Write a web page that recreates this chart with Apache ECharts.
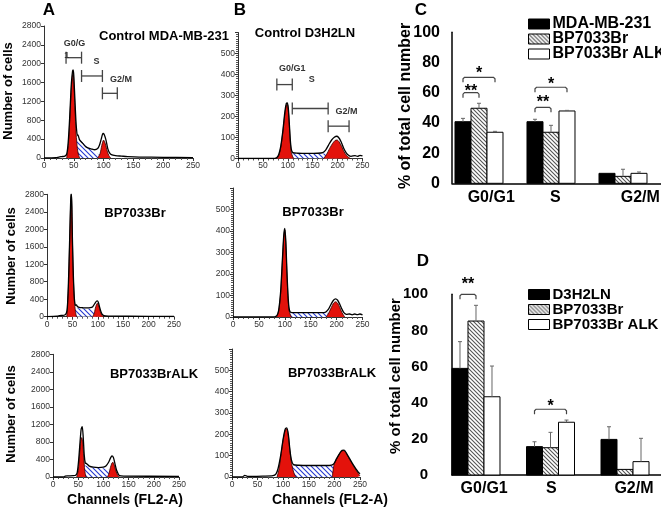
<!DOCTYPE html>
<html>
<head>
<meta charset="utf-8">
<script src="https://cdn.jsdelivr.net/npm/echarts@6/dist/echarts.min.js"></script>
<style>html,body{margin:0;padding:0;background:#fff}#chart{width:661px;height:508px}</style>
</head>
<body>
<div id="chart"></div>
<script>
// ---- flow histograms, [channel, cells] ----
// A1 Control MDA-MB-231
const a1Total = [[0,0],[20,5],[25,20],[30,30],[35,40],[38,80],[40,250],[42,600],[44,1100],[46,1600],[48,1850],[49,1870],[50,1750],[52,1200],[54,700],[56,480],[57,490],[58,450],[60,380],[65,310],[70,240],[75,210],[80,190],[85,175],[90,200],[93,270],[96,400],[99,520],[101,500],[104,380],[107,200],[110,110],[113,70],[120,50],[130,40],[140,30],[160,20],[200,15],[250,10]];
const a1G1 = [[38,0],[41,300],[44,1000],[46,1500],[48,1760],[49,1780],[50,1620],[52,1050],[54,500],[56,200],[58,60],[60,0]];
const a1S = [[50,0],[52,380],[58,400],[62,360],[70,260],[80,160],[90,90],[100,40],[108,0]];
const a1G2 = [[90,0],[94,90],[97,270],[100,380],[103,300],[106,150],[109,50],[112,0]];
// A2 BP7033Br
const a2Total = [[0,0],[20,10],[25,25],[30,30],[35,40],[38,80],[40,200],[42,700],[44,1500],[46,2400],[47,2750],[48,2820],[49,2500],[50,1800],[52,900],[54,400],[56,260],[58,270],[60,230],[65,210],[70,205],[75,200],[80,200],[85,205],[90,230],[94,300],[97,350],[99,360],[101,330],[104,200],[107,90],[110,40],[115,20],[130,12],[160,10],[250,5]];
const a2G1 = [[39,0],[42,650],[44,1450],[46,2350],[47,2700],[48,2780],[49,2450],[50,1750],[52,850],[54,350],[56,120],[58,0]];
const a2S = [[48,0],[50,190],[55,200],[65,195],[75,190],[85,180],[92,150],[98,80],[104,0]];
const a2G2 = [[90,0],[93,80],[96,230],[99,306],[102,250],[105,120],[108,40],[111,0]];
// A3 BP7033BrALK
const a3Total = [[0,0],[22,0],[24,20],[30,25],[40,30],[45,40],[48,100],[51,400],[54,850],[56,1100],[58,1150],[60,900],[62,500],[64,320],[66,310],[68,290],[72,250],[80,225],[90,215],[100,225],[105,250],[110,330],[114,430],[117,480],[120,440],[123,300],[126,160],[129,80],[132,30],[140,20],[250,15]];
const a3G1 = [[47,0],[50,150],[53,550],[55,820],[57,900],[59,800],[61,450],[63,150],[65,20],[66,0]];
const a3S = [[55,0],[58,260],[62,270],[70,240],[80,215],[90,205],[100,200],[108,180],[115,130],[122,50],[128,0]];
const a3G2 = [[108,0],[111,80],[114,220],[117,320],[119,335],[121,290],[124,170],[127,70],[130,15],[132,0]];
// B1 Control D3H2LN
const b1Total = [[0,0],[70,0],[78,5],[82,20],[86,60],[90,130],[94,220],[97,262],[99,265],[101,240],[103,170],[105,90],[107,45],[110,28],[120,25],[140,24],[160,25],[170,28],[176,40],[182,65],[188,88],[194,102],[198,106],[202,100],[207,80],[212,50],[217,28],[222,15],[227,10],[235,14],[240,10],[245,15],[250,12]];
const b1G1 = [[78,0],[82,15],[86,55],[90,125],[94,210],[97,255],[99,258],[101,230],[103,160],[105,80],[107,30],[110,8],[112,0]];
const b1S = [[100,0],[104,22],[110,24],[130,24],[150,24],[170,24],[180,22],[190,15],[200,0]];
const b1G2 = [[172,0],[178,20],[184,48],[190,72],[195,86],[199,88],[203,80],[208,58],[213,32],[218,14],[223,4],[226,0]];
// B2 BP7033Br
const b2Total = [[0,0],[75,0],[84,5],[88,30],[92,120],[95,250],[98,380],[100,412],[102,350],[104,220],[106,110],[108,45],[111,22],[120,20],[140,20],[160,20],[178,22],[184,35],[189,58],[194,78],[198,84],[202,78],[206,60],[210,38],[214,20],[219,12],[225,14],[230,10],[235,14],[240,11],[245,14],[250,10]];
const b2G1 = [[84,0],[88,25],[92,110],[95,240],[98,370],[100,405],[102,340],[104,210],[106,100],[108,35],[111,8],[113,0]];
const b2S = [[104,0],[108,18],[120,20],[140,20],[160,20],[180,20],[188,15],[195,5],[200,0]];
const b2G2 = [[180,0],[185,20],[190,45],[194,64],[198,71],[202,64],[206,45],[210,22],[214,6],[216,0]];
// B3 BP7033BrALK
const b3Total = [[0,0],[20,0],[25,8],[30,3],[40,3],[60,4],[80,6],[86,15],[90,40],[95,100],[100,180],[104,225],[107,230],[110,200],[113,130],[116,80],[120,58],[130,55],[150,54],[170,54],[190,54],[198,60],[204,85],[210,110],[215,125],[219,126],[224,110],[230,85],[236,60],[242,38],[247,22],[250,15]];
const b3G1 = [[88,0],[92,40],[96,110],[100,175],[104,220],[107,226],[110,195],[113,125],[116,70],[119,35],[122,12],[125,0]];
const b3S = [[108,0],[113,45],[120,53],[150,53],[180,53],[200,52],[210,40],[220,20],[228,0]];
const b3G2 = [[196,0],[199,55],[205,88],[210,110],[215,122],[218,124],[222,115],[228,90],[234,65],[240,40],[245,22],[249,8],[250,5]];

// gates: [fromChannel, toChannel, height]
const a1Gates = [[37,63,2128],[63,98,1740],[98,123,1372]];
const a1GateText = ['G0/G', '1', 'S', 'G2/M'];
const a1GateTextAt = [[51,2420],[38,2180],[88,2040],[129,1670]];
const b1Gates = [[78,109,352],[109,181,238],[181,223,154]];
const b1GateText = ['G0/G1', 'S', 'G2/M'];
const b1GateTextAt = [[109,430],[148,375],[218,222]];

// ---- bar charts ----
const phases = ['G0/G1', 'S', 'G2/M'];
const cNames = ['MDA-MB-231', 'BP7033Br', 'BP7033Br ALK'];
const cMeans = [[40.8, 40.8, 6.6], [49.7, 33.8, 4.6], [33.8, 47.9, 6.6]];
const cErrs = [[2.2, 1.6, 0], [3.3, 4.6, 4.7], [0.6, 0.4, 0.9]];
const dNames = ['D3H2LN', 'BP7033Br', 'BP7033Br ALK'];
const dMeans = [[59.0, 15.7, 19.7], [85.2, 15.1, 3.1], [43.3, 29.2, 7.4]];
const dErrs = [[14.8, 2.7, 7.0], [8.7, 8.5, 0], [17.0, 1.2, 12.9]];
// significance: [phase, fromBar, toBar, bracketValue, labelValue]
const cSig = [[0, 0, 1, 60, 62.9], [0, 0, 2, 70.2, 74.6], [1, 0, 1, 50.3, 55.6], [1, 0, 2, 63.6, 67.3]];
const cSigText = ['**', '*', '**', '*'];
const dSig = [[0, 0, 1, 100, 107], [1, 0, 2, 36.4, 39.7]];
const dSigText = ['**', '*'];

const FONT = "'Liberation Sans', Arial, sans-serif";
const BAR_W = 16;

function hatch(size, color, lw) {
  const c = document.createElement('canvas');
  c.width = size; c.height = size;
  const g = c.getContext('2d');
  g.fillStyle = '#fff';
  g.fillRect(0, 0, size, size);
  g.strokeStyle = color;
  g.lineWidth = lw;
  g.beginPath();
  g.moveTo(-1, -1); g.lineTo(size + 1, size + 1);
  g.moveTo(-1, size - 1); g.lineTo(1, size + 1);
  g.moveTo(size - 1, -1); g.lineTo(size + 1, 1);
  g.stroke();
  return c;
}
const bluePat = { image: hatch(5, '#2438d0', 1.1), repeat: 'repeat' };
const barPat = { image: hatch(4, '#555', 1.1), repeat: 'repeat' };
const barFills = ['#000', barPat, '#fff'];

const chart = echarts.init(document.getElementById('chart'));

const grids = [
  { left: 44, top: 26, width: 149, height: 132 },
  { left: 47, top: 194.3, width: 127, height: 122.4 },
  { left: 53, top: 354.3, width: 126, height: 122.7 },
  { left: 238, top: 32.5, width: 124.5, height: 126 },
  { left: 233, top: 188, width: 129.5, height: 129 },
  { left: 232, top: 349, width: 128, height: 128 },
  { left: 452, top: 32.3, width: 209, height: 151 },
  { left: 452, top: 294.3, width: 209, height: 180.7 }
].map(g => Object.assign({ outerBoundsMode: 'none', containLabel: false }, g));

function histX(gi) {
  return {
    type: 'value', gridIndex: gi, min: 0, max: 250, interval: 50,
    axisLine: { onZero: false, lineStyle: { color: '#333', width: 1 } },
    axisTick: { length: 3, lineStyle: { color: '#333' } },
    minorTick: { show: true, splitNumber: 5, length: 2, lineStyle: { color: '#555' } },
    axisLabel: { fontSize: 8.5, color: '#333', margin: 3, fontFamily: FONT },
    splitLine: { show: false }
  };
}
function histY(gi, max, step, minor) {
  return {
    type: 'value', gridIndex: gi, min: 0, max: max, interval: step,
    axisLine: { show: true, onZero: false, lineStyle: { color: '#333', width: 1 } },
    axisTick: { show: true, length: 3, lineStyle: { color: '#333' } },
    minorTick: { show: minor > 0, splitNumber: minor || 1, length: 2, lineStyle: { color: '#555' } },
    axisLabel: { fontSize: 8.5, color: '#333', margin: 3, fontFamily: FONT,
      formatter: v => (v === max && max === 600) ? '' : String(v) },
    splitLine: { show: false }
  };
}
function barX(gi, min, max, labelAt) {
  return {
    type: 'value', gridIndex: gi, min: min, max: max,
    axisLine: { onZero: false, lineStyle: { color: '#000', width: 1.5 } },
    axisTick: { show: false },
    splitLine: { show: false },
    axisLabel: {
      customValues: labelAt, margin: 6, fontSize: 16, fontWeight: 'bold', color: '#000', fontFamily: FONT,
      formatter: v => phases[labelAt.indexOf(v)] || ''
    }
  };
}
function barY(gi, margin, size) {
  return {
    type: 'value', gridIndex: gi, min: 0, max: 100, interval: 20,
    axisLine: { show: true, onZero: false, lineStyle: { color: '#000', width: 1.5 } },
    axisTick: { show: false },
    splitLine: { show: false },
    axisLabel: { margin: margin, fontSize: size, fontWeight: 'bold', color: '#000', fontFamily: FONT }
  };
}

function histSeries(gi, total, g1, s, g2) {
  const base = { type: 'line', xAxisIndex: gi, yAxisIndex: gi, symbol: 'none', smooth: 0.25, silent: true };
  return [
    Object.assign({}, base, { data: s, lineStyle: { width: 0 }, areaStyle: { color: bluePat, opacity: 1 } }),
    Object.assign({}, base, { data: g1, lineStyle: { width: 0.8, color: '#300' }, areaStyle: { color: '#e3120b', opacity: 1 } }),
    Object.assign({}, base, { data: g2, lineStyle: { width: 0.8, color: '#300' }, areaStyle: { color: '#e3120b', opacity: 1 } }),
    Object.assign({}, base, { data: total, lineStyle: { width: 1.3, color: '#000' } })
  ];
}

function gateSeries(gi, gates, texts, textAt) {
  return [{
    type: 'custom', xAxisIndex: gi, yAxisIndex: gi, silent: true, clip: false,
    data: gates, encode: { x: [0, 1], y: 2 },
    renderItem: (params, api) => {
      const p1 = api.coord([api.value(0), api.value(2)]);
      const p2 = api.coord([api.value(1), api.value(2)]);
      const st = { stroke: '#444', lineWidth: 1.3 };
      return { type: 'group', children: [
        { type: 'line', shape: { x1: p1[0], y1: p1[1], x2: p2[0], y2: p2[1] }, style: st },
        { type: 'line', shape: { x1: p1[0], y1: p1[1] - 6, x2: p1[0], y2: p1[1] + 6 }, style: st },
        { type: 'line', shape: { x1: p2[0], y1: p2[1] - 6, x2: p2[0], y2: p2[1] + 6 }, style: st }
      ] };
    }
  }, {
    type: 'custom', xAxisIndex: gi, yAxisIndex: gi, silent: true, clip: false,
    data: textAt, encode: { x: 0, y: 1 },
    renderItem: (params, api) => {
      const p = api.coord([api.value(0), api.value(1)]);
      return { type: 'text', x: p[0], y: p[1], style: {
        text: texts[params.dataIndex], fill: '#333', font: 'bold 9px ' + FONT,
        align: 'center', verticalAlign: 'middle', textAlign: 'center', textVerticalAlign: 'middle' } };
    }
  }];
}

function barSeries(gi, names, means, errs) {
  return names.map((name, si) => ({
    type: 'custom', name: name, xAxisIndex: gi, yAxisIndex: gi, silent: true, clip: false,
    itemStyle: { color: barFills[si], borderColor: '#000', borderWidth: 1 },
    data: means[si].map((m, i) => [i, m]),
    encode: { x: 0, y: 1 },
    renderItem: (params, api) => {
      const i = params.dataIndex;
      const v = means[si][i], e = errs[si][i];
      const top = api.coord([i, v]);
      const base = api.coord([i, 0]);
      const cx = top[0] + (si - 1) * BAR_W;
      const kids = [{ type: 'rect',
        shape: { x: cx - BAR_W / 2, y: top[1], width: BAR_W, height: base[1] - top[1] },
        style: { fill: barFills[si], stroke: '#000', lineWidth: 1 } }];
      if (e > 0) {
        const ey = api.coord([i, v + e])[1];
        kids.push({ type: 'line', shape: { x1: cx, y1: top[1], x2: cx, y2: ey }, style: { stroke: '#666', lineWidth: 1 } });
        kids.push({ type: 'line', shape: { x1: cx - 2, y1: ey, x2: cx + 2, y2: ey }, style: { stroke: '#666', lineWidth: 1 } });
      }
      return { type: 'group', children: kids };
    }
  }));
}

function sigSeries(gi, sig, texts) {
  return {
    type: 'custom', xAxisIndex: gi, yAxisIndex: gi, silent: true, clip: false,
    data: sig.map(s => [s[0], s[3]]), encode: { x: 0, y: 1 },
    renderItem: (params, api) => {
      const s = sig[params.dataIndex];
      const p = api.coord([s[0], s[3]]);
      const lp = api.coord([s[0], s[4]]);
      const x1 = p[0] + (s[1] - 1) * BAR_W;
      const x2 = p[0] + (s[2] - 1) * BAR_W;
      const y = p[1];
      return { type: 'group', children: [
        { type: 'polyline', shape: { points: [[x1, y + 5], [x1, y + 1.5], [x1 + 1.5, y], [x2 - 1.5, y], [x2, y + 1.5], [x2, y + 5]] },
          style: { stroke: '#444', lineWidth: 1.2, fill: 'none' } },
        { type: 'text', x: (x1 + x2) / 2, y: lp[1] + 3, style: {
          text: texts[params.dataIndex], fill: '#000', font: 'bold 16px ' + FONT,
          align: 'center', verticalAlign: 'middle', textAlign: 'center', textVerticalAlign: 'middle' } }
      ] };
    }
  };
}

function txt(x, y, s, font, rot) {
  return { type: 'text', x: x, y: y, rotation: rot || 0, silent: true,
    style: { text: s, font: font, fill: '#000', align: 'center', verticalAlign: 'middle',
      textAlign: 'center', textVerticalAlign: 'middle' } };
}

function legendOf(names, top, size, gap) {
  return {
    orient: 'vertical', left: 528, top: top, padding: 0, itemGap: gap,
    itemWidth: 21, itemHeight: 10, icon: 'rect', selectedMode: false,
    textStyle: { fontSize: size, fontWeight: 'bold', color: '#000', fontFamily: FONT, padding: [0, 0, 0, -2] },
    data: names.map((n, i) => ({ name: n, itemStyle: { color: barFills[i], borderColor: '#000', borderWidth: 1 } }))
  };
}

const bold13 = 'bold 13px ' + FONT;
const option = {
  animation: false,
  backgroundColor: '#fff',
  textStyle: { fontFamily: FONT },
  grid: grids,
  xAxis: [histX(0), histX(1), histX(2), histX(3), histX(4), histX(5),
    barX(6, -0.375, 2.528, [0.17, 1.06, 2.24]),
    barX(7, -0.322, 2.483, [0.11, 1.01, 2.12])],
  yAxis: [histY(0, 2800, 400, 0), histY(1, 2800, 400, 0), histY(2, 2800, 400, 0),
    histY(3, 600, 100, 10), histY(4, 600, 100, 10), histY(5, 600, 100, 10),
    barY(6, 12, 16), barY(7, 24, 15)],
  legend: [legendOf(cNames, 16, 16, -1), legendOf(dNames, 287, 15, 0)],
  series: [].concat(
    histSeries(0, a1Total, a1G1, a1S, a1G2),
    histSeries(1, a2Total, a2G1, a2S, a2G2),
    histSeries(2, a3Total, a3G1, a3S, a3G2),
    histSeries(3, b1Total, b1G1, b1S, b1G2),
    histSeries(4, b2Total, b2G1, b2S, b2G2),
    histSeries(5, b3Total, b3G1, b3S, b3G2),
    gateSeries(0, a1Gates, a1GateText, a1GateTextAt),
    gateSeries(3, b1Gates, b1GateText, b1GateTextAt),
    barSeries(6, cNames, cMeans, cErrs),
    barSeries(7, dNames, dMeans, dErrs),
    [sigSeries(6, cSig, cSigText), sigSeries(7, dSig, dSigText)]
  ),
  graphic: [
    txt(49, 10, 'A', 'bold 17px ' + FONT),
    txt(240, 10, 'B', 'bold 17px ' + FONT),
    txt(421, 10, 'C', 'bold 17px ' + FONT),
    txt(423, 261, 'D', 'bold 17px ' + FONT),
    txt(164, 36, 'Control MDA-MB-231', bold13),
    txt(305, 33, 'Control D3H2LN', bold13),
    txt(135, 213, 'BP7033Br', bold13),
    txt(313, 212, 'BP7033Br', bold13),
    txt(154, 374, 'BP7033BrALK', bold13),
    txt(332, 373, 'BP7033BrALK', bold13),
    txt(8, 91, 'Number of cells', bold13, Math.PI / 2),
    txt(11, 256, 'Number of cells', bold13, Math.PI / 2),
    txt(11, 414, 'Number of cells', bold13, Math.PI / 2),
    txt(125, 500, 'Channels (FL2-A)', 'bold 14px ' + FONT),
    txt(330, 500, 'Channels (FL2-A)', 'bold 14px ' + FONT),
    txt(406, 106, '% of total cell number', 'bold 16px ' + FONT, Math.PI / 2),
    txt(396, 376, '% of total cell number', 'bold 15px ' + FONT, Math.PI / 2)
  ]
};
chart.setOption(option);
</script>
</body>
</html>
